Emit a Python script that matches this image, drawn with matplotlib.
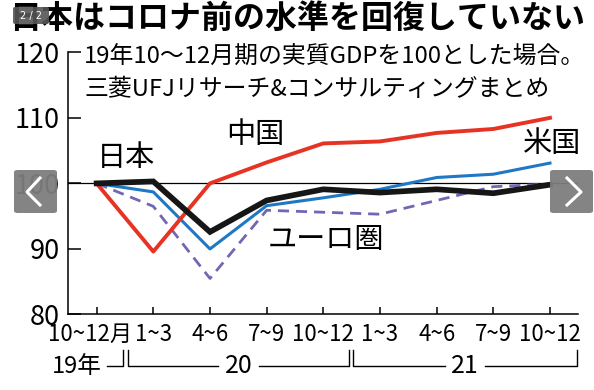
import matplotlib
matplotlib.use("Agg")
import matplotlib.pyplot as plt
from matplotlib.patches import FancyBboxPatch
from matplotlib.lines import Line2D

plt.rcParams['font.family'] = ['Noto Sans CJK JP', 'DejaVu Sans']

# quarters from 2019 Q4 to 2021 Q4, index 2019 Q4 = 100
quarters = ['10~12月', '1~3', '4~6', '7~9', '10~12', '1~3', '4~6', '7~9', '10~12']
japan = [100, 100.3, 92.6, 97.4, 99.1, 98.6, 99.1, 98.5, 99.8]
china = [100, 89.6, 100.0, 103.2, 106.1, 106.4, 107.7, 108.3, 110.0]
usa = [100, 98.7, 90.0, 96.6, 97.8, 99.1, 100.9, 101.4, 103.1]
euro = [100, 96.5, 85.5, 95.9, 95.6, 95.3, 97.4, 99.5, 99.9]
years = [('19年', None, None), ('20', 0.55, 4.46), ('21', 4.53, 8.47)]
yticks = [80, 90, 100, 110, 120]

fig = plt.figure(figsize=(5.94, 3.90), dpi=100)
ax = fig.add_axes([0.1150, 0.1936, 0.9736 - 0.1150, 0.8659 - 0.1936])

x = list(range(len(quarters)))
ax.axhline(100, color='black', lw=0.9, zorder=1)
ax.plot(x, euro, color='#7466b4', lw=2.0, dashes=(4, 2.5), zorder=2)
ax.plot(x, usa, color='#1f78c4', lw=2.2, zorder=3)
ax.plot(x, china, color='#e63323', lw=2.8, zorder=4)
ax.plot(x, japan, color='#161616', lw=4.1, solid_joinstyle='miter', zorder=5)

ax.set_xlim(-0.5, 8.5)
ax.set_ylim(80, 120)
ax.spines[['top', 'right']].set_visible(False)
ax.spines[['left', 'bottom']].set_linewidth(1.1)

ax.set_yticks(yticks)
ax.set_yticklabels([str(v) for v in yticks], fontsize=19.5)
ax.tick_params(axis='y', direction='in', length=9, width=1.1, pad=6)
ax.set_xticks(x)
ax.set_xticklabels([])
ax.tick_params(axis='x', direction='in', length=5, width=1.1)

# quarter labels under the axis
for i, lab in enumerate(quarters):
    dx = -0.11 if i == 0 else 0
    ax.text(i + dx, -0.077, lab, transform=ax.get_xaxis_transform(),
            ha='center', va='center', fontsize=16)

# year brackets
tr = ax.get_xaxis_transform()
ylow, yhigh = -0.197, -0.137
ax.text(-0.35, ylow, '19年', transform=tr, ha='center', va='center', fontsize=17)
ax.plot([0.18, 0.46, 0.46], [ylow, ylow, yhigh], transform=tr, color='black', lw=1.0, clip_on=False)
for lab, a, b in years[1:]:
    mid = (a + b) / 2
    ax.plot([a, a, mid - 0.36], [yhigh, ylow, ylow], transform=tr, color='black', lw=1.0, clip_on=False)
    ax.plot([mid + 0.36, b, b], [ylow, ylow, yhigh], transform=tr, color='black', lw=1.0, clip_on=False)
    ax.text(mid, ylow, lab, transform=tr, ha='center', va='center', fontsize=18)

# series labels
ax.text(0.52, 103.9, '日本', ha='center', va='center', fontsize=21)
ax.text(2.8, 107.4, '中国', ha='center', va='center', fontsize=21)
ax.text(8.03, 106.0, '米国', ha='center', va='center', fontsize=21)
ax.text(4.05, 91.4, 'ユーロ圏', ha='center', va='center', fontsize=21)

# title and notes
fig.text(0.5, 1 - 19 / 390, '日本はコロナ前の水準を回復していない', ha='center', va='center',
         fontsize=23, fontweight='bold')
fig.text(84 / 594, 1 - 57 / 390, '19年10～12月期の実質GDPを100とした場合。', ha='left', va='center',
         fontsize=17.2)
fig.text(84 / 594, 1 - 90 / 390, '三菱UFJリサーチ&コンサルティングまとめ', ha='left', va='center',
         fontsize=17.2)

# slideshow overlays
def px(xp, yp):
    return xp / 594, 1 - yp / 390

for x0, pts in [(14, [(40, 178), (27, 192), (40, 205)]), (550, [(567, 178), (581, 192), (567, 205)])]:
    bx, by = px(x0, 213)
    fig.patches.append(FancyBboxPatch((bx, by), 43 / 594, 43 / 390, boxstyle='round,pad=0,rounding_size=0.006',
                                      transform=fig.transFigure, facecolor='#7d7d7d', edgecolor='none',
                                      alpha=0.95, zorder=10))
    xs = [px(p[0], p[1])[0] for p in pts]
    ys = [px(p[0], p[1])[1] for p in pts]
    fig.lines.append(Line2D(xs, ys, transform=fig.transFigure, color='white', lw=2.2, zorder=11))

bx, by = px(13, 24)
fig.patches.append(FancyBboxPatch((bx, by), 36 / 594, 17 / 390, boxstyle='round,pad=0,rounding_size=0.004',
                                  transform=fig.transFigure, facecolor='#555555', edgecolor='none',
                                  alpha=0.9, zorder=10))
fig.text(31 / 594, 1 - 15.5 / 390, '2 / 2', ha='center', va='center', fontsize=7,
         color='white', zorder=12, family=['DejaVu Sans'])

fig.savefig('out.png', dpi=100)
